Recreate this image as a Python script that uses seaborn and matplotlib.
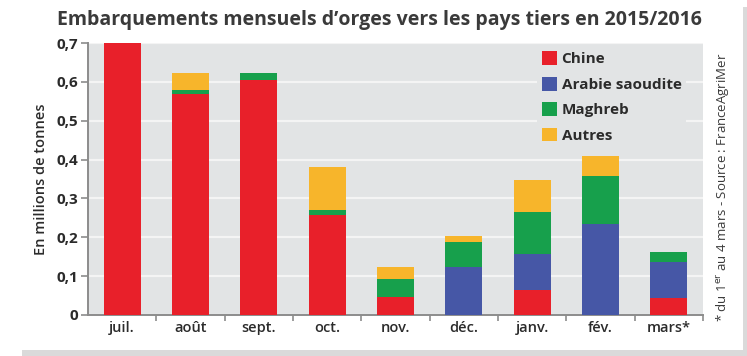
import matplotlib
matplotlib.use("Agg")
import matplotlib.pyplot as plt
from matplotlib.patches import Patch, Rectangle
from matplotlib.ticker import FixedLocator
import numpy as np
import pandas as pd
import seaborn as sns

months = ["juil.", "août", "sept.", "oct.", "nov.", "déc.", "janv.", "fév.", "mars*"]
chine = [0.70, 0.570, 0.605, 0.257, 0.047, 0.0, 0.064, 0.0, 0.043]
arabie = [0.0, 0.0, 0.0, 0.0, 0.0, 0.124, 0.093, 0.233, 0.093]
maghreb = [0.0, 0.009, 0.017, 0.013, 0.045, 0.065, 0.109, 0.125, 0.027]
autres = [0.0, 0.043, 0.0, 0.112, 0.031, 0.014, 0.081, 0.051, 0.0]
series_names = ["Chine", "Arabie saoudite", "Maghreb", "Autres"]
colors = ["#e8202a", "#4657a6", "#17a04c", "#f7b52b"]
yticks = [0, 0.1, 0.2, 0.3, 0.4, 0.5, 0.6, 0.7]
ytick_labels = ["0", "0,1", "0,2", "0,3", "0,4", "0,5", "0,6", "0,7"]
title = "Embarquements mensuels d\u2019orges vers les pays tiers en 2015/2016"
ylabel = "En millions de tonnes"
note = "* du 1$^{\\mathrm{er}}$ au 4 mars - Source : FranceAgriMer"

sns.set_theme(style="white")
plt.rcParams["font.family"] = ["Open Sans", "DejaVu Sans"]

df = pd.DataFrame({"mois": months, "Chine": chine, "Arabie saoudite": arabie,
                   "Maghreb": maghreb, "Autres": autres})
cum = df[series_names].cumsum(axis=1)

fig = plt.figure(figsize=(7.47, 3.56), dpi=100)
fig.patch.set_facecolor("white")
# shadow of the frame
fig.patches.append(Rectangle((0.03, 0.0), 0.97, 0.017, transform=fig.transFigure,
                             facecolor="#dadada", edgecolor="none", zorder=0))
fig.patches.append(Rectangle((0.994, 0.0), 0.006, 0.98, transform=fig.transFigure,
                             facecolor="#dadada", edgecolor="none", zorder=0))

ax = fig.add_axes([88 / 747, 1 - 315 / 356, 615 / 747, 272 / 356])
ax.set_facecolor("#e2e4e5")

for i in range(len(series_names) - 1, -1, -1):
    sns.barplot(x=df["mois"], y=cum[series_names[i]], color=colors[i], ax=ax,
                width=0.54, saturation=1, edgecolor="none", linewidth=0, zorder=3)

ax.set_xlim(-0.5, len(months) - 0.5)
ax.set_ylim(0, 0.7)
ax.set_yticks(yticks)
ax.set_yticklabels(ytick_labels)
ax.yaxis.grid(True, color="#f4f4f4", linewidth=1.6, zorder=0)
ax.set_axisbelow(True)
for s in ["top", "right"]:
    ax.spines[s].set_visible(False)
for s in ["left", "bottom"]:
    ax.spines[s].set_color("#8c8c8c")
    ax.spines[s].set_linewidth(1.4)
ax.tick_params(axis="y", length=5, width=1.2, color="#8c8c8c", labelsize=11,
               labelcolor="#2b2b2b", pad=2, left=True)
ax.tick_params(axis="x", which="major", length=0, labelsize=10.5, labelcolor="#2b2b2b", pad=4)
ax.xaxis.set_minor_locator(FixedLocator(np.arange(0.5, len(months), 1.0)))
ax.tick_params(axis="x", which="minor", length=4, width=1.2, color="#8c8c8c", bottom=True)
for lab in ax.get_yticklabels():
    lab.set_fontweight("bold")
for lab in ax.get_xticklabels():
    lab.set_fontweight("semibold")
ax.set_xlabel("")
ax.set_ylabel(ylabel, fontsize=10.5, color="#2b2b2b", fontweight="semibold", labelpad=6)

handles = [Patch(facecolor=c, edgecolor="none") for c in colors]
leg = ax.legend(handles, series_names, loc="upper left", bbox_to_anchor=(0.724, 1.0),
                frameon=True, facecolor="#e2e4e5", edgecolor="none", framealpha=1,
                fontsize=11, handlelength=1.0, handleheight=1.0, handletextpad=0.3,
                labelspacing=0.68, borderpad=0.3, borderaxespad=0.25)
for t in leg.get_texts():
    t.set_fontweight("bold")
    t.set_color("#2b2b2b")
leg.set_zorder(5)

fig.text(57 / 747, 1 - 20 / 356, title, fontsize=14, fontweight="bold",
         color="#3a3a3a", va="center", ha="left")
fig.text(723 / 747, 1 - 187 / 356, note, rotation=90, fontsize=9.5, color="#3a3a3a",
         va="center", ha="center")

fig.savefig("out.png", dpi=100)
